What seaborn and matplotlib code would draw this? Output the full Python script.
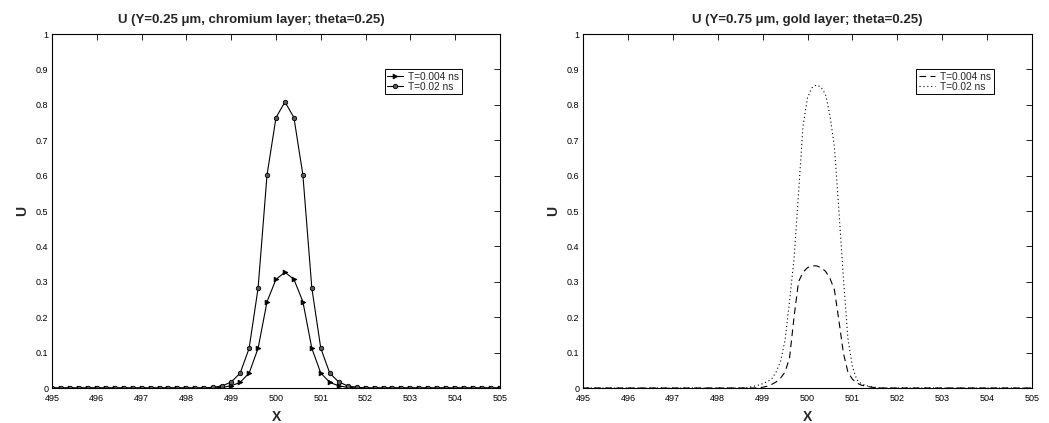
import numpy as np
import pandas as pd
import matplotlib
matplotlib.use("Agg")
import matplotlib.pyplot as plt
import seaborn as sns

# ---------------- data ----------------
x_left = [495.0, 495.2, 495.4, 495.6, 495.8, 496.0, 496.2, 496.4, 496.6, 496.8,
          497.0, 497.2, 497.4, 497.6, 497.8, 498.0, 498.2, 498.4, 498.6, 498.8,
          499.0, 499.2, 499.4, 499.6, 499.8, 500.0, 500.2, 500.4, 500.6, 500.8,
          501.0, 501.2, 501.4, 501.6, 501.8, 502.0, 502.2, 502.4, 502.6, 502.8,
          503.0, 503.2, 503.4, 503.6, 503.8, 504.0, 504.2, 504.4, 504.6, 504.8,
          505.0]
u_cr_t004 = [0, 0, 0, 0, 0, 0, 0, 0, 0, 0,
             0, 0, 0, 0, 0, 0, 0, 0, 0, 0.002,
             0.006, 0.016, 0.042, 0.112, 0.244, 0.307, 0.327, 0.307, 0.244, 0.112,
             0.042, 0.016, 0.006, 0.002, 0, 0, 0, 0, 0, 0,
             0, 0, 0, 0, 0, 0, 0, 0, 0, 0,
             0]
u_cr_t02 = [0, 0, 0, 0, 0, 0, 0, 0, 0, 0,
            0, 0, 0, 0, 0, 0, 0, 0, 0.002, 0.006,
            0.017, 0.042, 0.112, 0.282, 0.602, 0.764, 0.808, 0.764, 0.602, 0.282,
            0.112, 0.042, 0.017, 0.006, 0.002, 0, 0, 0, 0, 0,
            0, 0, 0, 0, 0, 0, 0, 0, 0, 0,
            0]

x_right = [495.0, 498.5, 498.6, 498.7, 498.8, 498.9, 499.0, 499.1, 499.2, 499.3,
           499.4, 499.5, 499.6, 499.7, 499.8, 499.9, 500.0, 500.1, 500.2, 500.3,
           500.4, 500.5, 500.6, 500.7, 500.8, 500.9, 501.0, 501.1, 501.2, 501.3,
           501.4, 501.5, 501.6, 501.7, 505.0]
u_au_t004 = [0, 0, 0, 0, 0, 0.001, 0.002, 0.005, 0.010, 0.017,
             0.028, 0.045, 0.085, 0.200, 0.300, 0.327, 0.340, 0.345, 0.345, 0.340,
             0.330, 0.310, 0.277, 0.190, 0.098, 0.045, 0.025, 0.014, 0.008, 0.005,
             0.003, 0.001, 0, 0, 0]
u_au_t02 = [0, 0, 0.001, 0.002, 0.005, 0.008, 0.012, 0.018, 0.025, 0.045,
            0.075, 0.135, 0.245, 0.365, 0.550, 0.740, 0.820, 0.848, 0.856, 0.850,
            0.830, 0.770, 0.680, 0.500, 0.310, 0.140, 0.060, 0.023, 0.012, 0.007,
            0.004, 0.002, 0.001, 0, 0]

labels = ["T=0.004 ns", "T=0.02 ns"]
titles = ["U (Y=0.25 \u03bcm, chromium layer; theta=0.25)",
          "U (Y=0.75 \u03bcm, gold layer; theta=0.25)"]
xticks = [495, 496, 497, 498, 499, 500, 501, 502, 503, 504, 505]
yticks = [0, 0.1, 0.2, 0.3, 0.4, 0.5, 0.6, 0.7, 0.8, 0.9, 1.0]
ytick_labels = ["0", "0.1", "0.2", "0.3", "0.4", "0.5", "0.6", "0.7", "0.8", "0.9", "1"]

# ---------------- style ----------------
sns.set_style("white")
plt.rcParams["font.family"] = ["Liberation Sans", "DejaVu Sans"]
plt.rcParams["axes.linewidth"] = 0.8

fig = plt.figure(figsize=(10.49, 4.23), dpi=100)
ax1 = fig.add_axes([52 / 1049, 35 / 423, 448 / 1049, 354 / 423])
ax2 = fig.add_axes([583 / 1049, 35 / 423, 449 / 1049, 354 / 423])

df_left = pd.DataFrame({"x": x_left, "a": u_cr_t004, "b": u_cr_t02})
df_right = pd.DataFrame({"x": x_right, "a": u_au_t004, "b": u_au_t02})

sns.lineplot(data=df_left, x="x", y="a", ax=ax1, color="k", lw=0.8,
             marker=">", markersize=3.5, markeredgecolor="k", markerfacecolor="k",
             markeredgewidth=0.5, label=labels[0])
sns.lineplot(data=df_left, x="x", y="b", ax=ax1, color="k", lw=0.8,
             marker="o", markersize=3.2, markeredgecolor="k", markerfacecolor="0.35",
             markeredgewidth=0.6, label=labels[1])

sns.lineplot(data=df_right, x="x", y="a", ax=ax2, color="k", lw=0.8,
             linestyle=(0, (6, 4)), label=labels[0])
sns.lineplot(data=df_right, x="x", y="b", ax=ax2, color="k", lw=0.8,
             linestyle=(0, (1, 2.5)), label=labels[1])

title_x = [0.446, 0.5]
for ax, title, tx in zip([ax1, ax2], titles, title_x):
    ax.set_xlim(495, 505)
    ax.set_ylim(0, 1)
    ax.set_xticks(xticks)
    ax.set_xticklabels([str(t) for t in xticks])
    ax.set_yticks(yticks)
    ax.set_yticklabels(ytick_labels)
    ax.tick_params(direction="in", top=True, right=True, length=4, width=0.6,
                   labelsize=6.5, colors="k")
    ax.tick_params(axis="x", pad=4)
    ax.tick_params(axis="y", pad=2.5)
    for s in ax.spines.values():
        s.set_color("k")
        s.set_linewidth(0.8)
    ax.set_title(title, fontsize=9.5, fontweight="bold", pad=8, x=tx)
    ax.set_xlabel("X", fontsize=10, fontweight="bold", labelpad=5)
    ax.set_ylabel("U", fontsize=10, fontweight="bold", labelpad=5)
    leg = ax.legend(loc="upper right", bbox_to_anchor=(0.915, 0.90), fontsize=7.3,
                    frameon=True, fancybox=False, framealpha=1, edgecolor="k",
                    handlelength=1.6, handletextpad=0.5, borderpad=0.25,
                    labelspacing=0.0, borderaxespad=0)
    leg.get_frame().set_linewidth(0.7)

fig.savefig("out.png", dpi=100)
